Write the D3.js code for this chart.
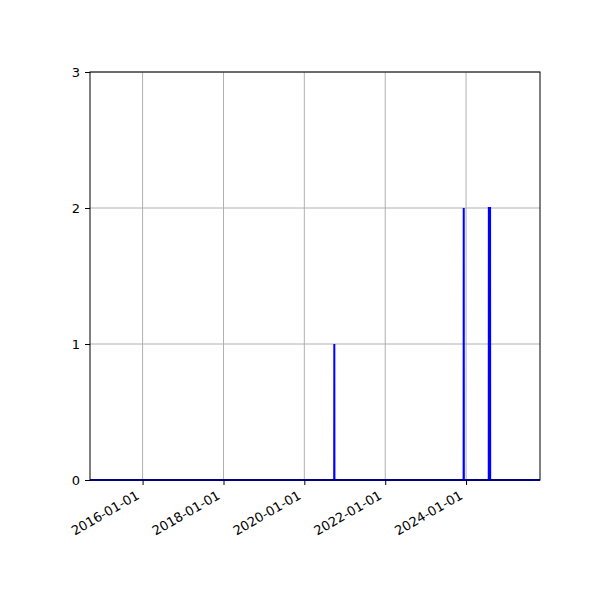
<!DOCTYPE html>
<html>
<head>
<meta charset="utf-8">
<script src="https://cdn.jsdelivr.net/npm/d3@7"></script>
<style>
body { margin: 0; background: #fff; }
text { font-family: "DejaVu Sans", sans-serif; }
</style>
</head>
<body>
<div id="chart"></div>
<script>
// daily counts, mostly zero with a few spikes
var dates = ['2014-09-13', '2020-09-27', '2020-09-28', '2020-09-29',
	'2023-12-10', '2023-12-11', '2023-12-12',
	'2024-07-24', '2024-07-25', '2024-08-05', '2024-08-06', '2025-10-30'];
var counts = [0, 0, 1, 0, 0, 2, 0, 0, 2, 2, 0, 0];
var yTicks = [0, 1, 2, 3];
var xTicks = ['2016-01-01', '2018-01-01', '2020-01-01', '2022-01-01', '2024-01-01'];

var W = 600, H = 600;
var margin = {left: 90, right: 60, top: 72, bottom: 120};
var parse = d3.timeParse('%Y-%m-%d');

var data = dates.map(function(d, i) { return {date: parse(d), value: counts[i]}; });

var svg = d3.select('#chart').append('svg')
	.attr('width', W)
	.attr('height', H);

var x = d3.scaleTime()
	.domain(d3.extent(data, function(d) { return d.date; }))
	.range([margin.left, W - margin.right]);
var y = d3.scaleLinear()
	.domain([0, 3])
	.range([H - margin.bottom, margin.top]);

// grid
var g = svg.append('g');
g.selectAll('.vgrid').data(xTicks).enter().append('line')
	.attr('x1', function(d) { return x(parse(d)); })
	.attr('x2', function(d) { return x(parse(d)); })
	.attr('y1', y(0)).attr('y2', y(3))
	.attr('stroke', '#b0b0b0').attr('stroke-width', 1);
g.selectAll('.hgrid').data(yTicks).enter().append('line')
	.attr('x1', x.range()[0]).attr('x2', x.range()[1])
	.attr('y1', function(d) { return y(d); })
	.attr('y2', function(d) { return y(d); })
	.attr('stroke', '#b0b0b0').attr('stroke-width', 1);

// the series
var line = d3.line()
	.x(function(d) { return x(d.date); })
	.y(function(d) { return y(d.value); });
svg.append('path')
	.datum(data)
	.attr('d', line)
	.attr('fill', 'none')
	.attr('stroke', '#0000ff')
	.attr('stroke-width', 2);

// axes
var xAxis = d3.axisBottom(x)
	.tickValues(xTicks.map(parse))
	.tickFormat(d3.timeFormat('%Y-%m-%d'))
	.tickSizeOuter(0)
	.tickSize(5);
var gx = svg.append('g')
	.attr('transform', 'translate(0,' + y(0) + ')')
	.call(xAxis);
gx.select('.domain').remove();
gx.selectAll('text')
	.attr('font-size', 13)
	.attr('fill', '#000')
	.attr('text-anchor', 'end')
	.attr('dy', null)
	.attr('y', 0)
	.attr('transform', 'translate(-3,18) rotate(-30)');

var yAxis = d3.axisLeft(y)
	.tickValues(yTicks)
	.tickFormat(d3.format('d'))
	.tickSizeOuter(0)
	.tickSize(5)
	.tickPadding(5);
var gy = svg.append('g')
	.attr('transform', 'translate(' + margin.left + ',0)')
	.call(yAxis);
gy.select('.domain').remove();
gy.selectAll('text').attr('font-size', 13).attr('fill', '#000');

// frame
svg.append('rect')
	.attr('x', margin.left).attr('y', margin.top)
	.attr('width', W - margin.left - margin.right)
	.attr('height', H - margin.top - margin.bottom)
	.attr('fill', 'none')
	.attr('stroke', '#000')
	.attr('stroke-width', 1);
</script>
</body>
</html>
